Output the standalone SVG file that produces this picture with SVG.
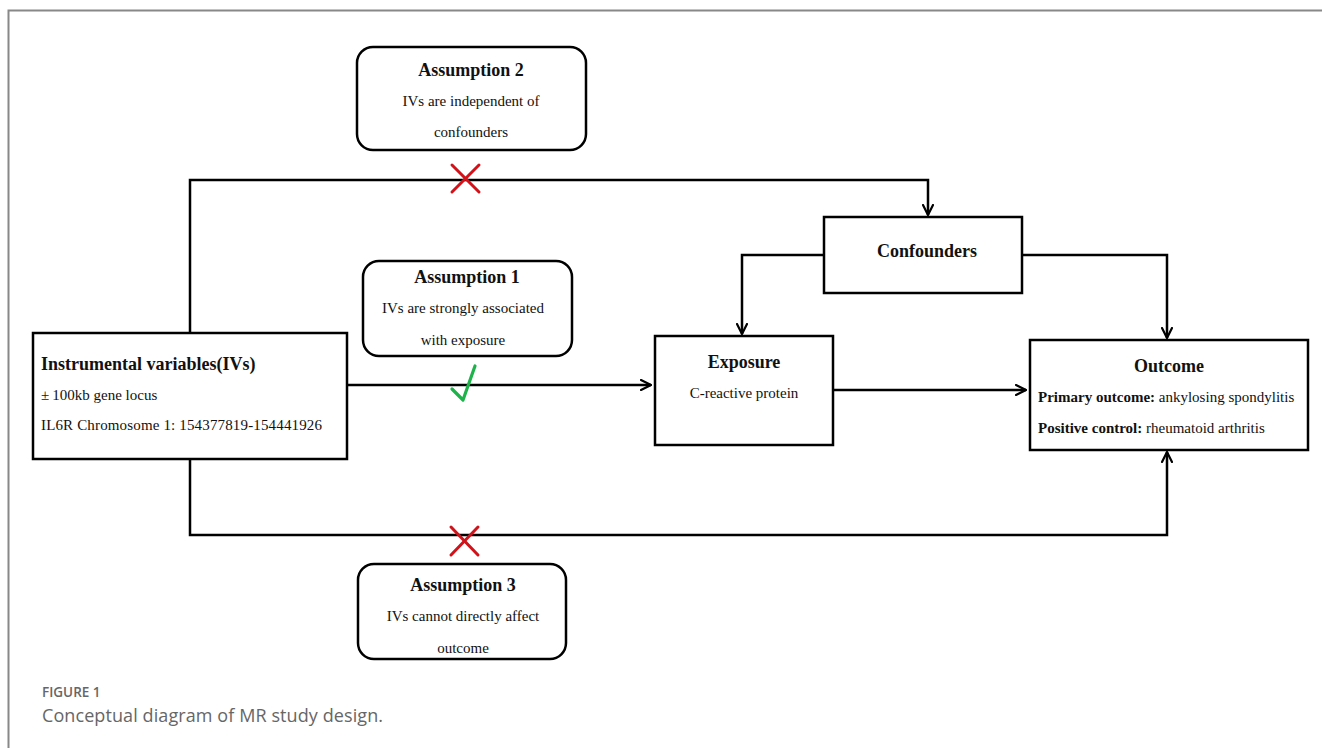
<svg xmlns="http://www.w3.org/2000/svg" width="1322" height="748" viewBox="0 0 1322 748">
<style>
.box{fill:#fff;stroke:#000;stroke-width:2.5}
.conn{fill:none;stroke:#000;stroke-width:2.5}
.t{font-family:"Liberation Serif","Times New Roman",serif;fill:#111}
.h{font-size:18px;font-weight:bold}
.b{font-size:15px}
.cap{font-family:"Open Sans","Noto Sans",sans-serif;fill:#666}
</style>
<defs>
<marker id="arr" viewBox="0 0 12 12" refX="11" refY="6" markerWidth="12" markerHeight="12" markerUnits="userSpaceOnUse" orient="auto">
<path d="M1,1 L11,6 L1,11" fill="none" stroke="#000" stroke-width="2.2" stroke-linecap="round"/>
</marker>
</defs>
<rect width="1322" height="748" fill="#fff"/>
<path d="M8.5,748 V10.5 H1322" fill="none" stroke="#888" stroke-width="2"/>

<g id="connectors">
<path class="conn" d="M190,333 V180 H928 V215" marker-end="url(#arr)"/>
<path class="conn" d="M824,255 H742 V334" marker-end="url(#arr)"/>
<path class="conn" d="M1022,255 H1167 V338" marker-end="url(#arr)"/>
<path class="conn" d="M347,385 H651" marker-end="url(#arr)"/>
<path class="conn" d="M833,390 H1026" marker-end="url(#arr)"/>
<path class="conn" d="M190,459 V535 H1167 V452" marker-end="url(#arr)"/>
<g stroke="#d0131a" stroke-width="3" stroke-linecap="round">
<line x1="452" y1="165" x2="479" y2="192"/>
<line x1="479" y1="165" x2="452" y2="192"/>
<line x1="451" y1="527" x2="478" y2="555"/>
<line x1="478" y1="527" x2="451" y2="555"/>
</g>
<path d="M452,389 L463,400 L475,366" fill="none" stroke="#1db34a" stroke-width="3.2" stroke-linecap="round" stroke-linejoin="round"/>
</g>

<g id="assumption2">
<rect class="box" x="357" y="47" width="229" height="103" rx="16"/>
<text class="t h" x="471" y="76" text-anchor="middle">Assumption 2</text>
<text class="t b" x="471" y="106" text-anchor="middle">IVs are independent of</text>
<text class="t b" x="471" y="137" text-anchor="middle">confounders</text>
</g>

<g id="confounders">
<rect class="box" x="824" y="217" width="198" height="76"/>
<text class="t h" x="927" y="257" text-anchor="middle">Confounders</text>
</g>

<g id="assumption1">
<rect class="box" x="363" y="261" width="209" height="95" rx="16"/>
<text class="t h" x="467" y="283" text-anchor="middle">Assumption 1</text>
<text class="t b" x="463" y="313" text-anchor="middle">IVs are strongly associated</text>
<text class="t b" x="463" y="345" text-anchor="middle">with exposure</text>
</g>

<g id="ivs">
<rect class="box" x="33" y="333" width="314" height="126"/>
<text class="t h" x="41" y="370">Instrumental variables(IVs)</text>
<text class="t b" x="41" y="400">±<tspan dx="3">100kb gene locus</tspan></text>
<text class="t b" x="41" y="430" textLength="281">IL6R Chromosome 1: 154377819-154441926</text>
</g>

<g id="exposure">
<rect class="box" x="655" y="336" width="178" height="109"/>
<text class="t h" x="744" y="368" text-anchor="middle">Exposure</text>
<text class="t b" x="744" y="398" text-anchor="middle">C-reactive protein</text>
</g>

<g id="outcome">
<rect class="box" x="1030" y="340" width="278" height="110"/>
<text class="t h" x="1169" y="372" text-anchor="middle">Outcome</text>
<text class="t b" x="1038" y="402"><tspan font-weight="bold">Primary outcome:</tspan> ankylosing spondylitis</text>
<text class="t b" x="1038" y="433"><tspan font-weight="bold">Positive control:</tspan> rheumatoid arthritis</text>
</g>

<g id="assumption3">
<rect class="box" x="358" y="564" width="208" height="95" rx="16"/>
<text class="t h" x="463" y="591" text-anchor="middle">Assumption 3</text>
<text class="t b" x="463" y="621" text-anchor="middle">IVs cannot directly affect</text>
<text class="t b" x="463" y="653" text-anchor="middle">outcome</text>
</g>

<g id="caption">
<text class="cap" x="42" y="697" font-size="13.5" font-weight="600" fill="#888">FIGURE 1</text>
<text class="cap" x="42" y="722" font-size="18" textLength="341">Conceptual diagram of MR study design.</text>
</g>
</svg>
